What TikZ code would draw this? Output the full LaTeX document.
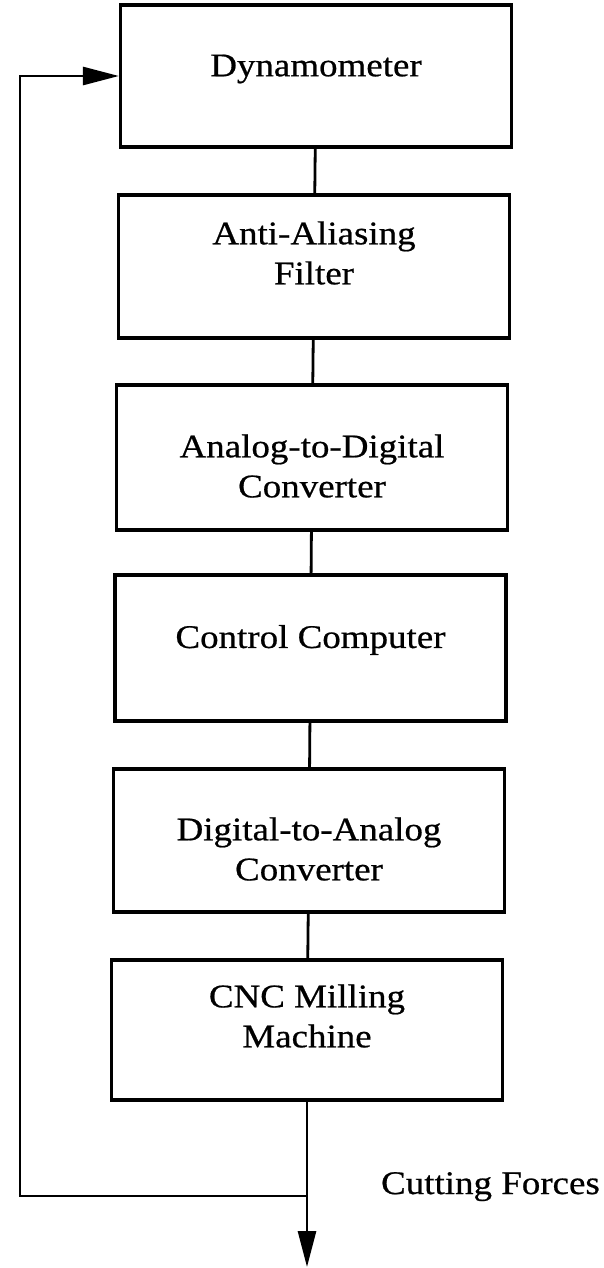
\documentclass[tikz,border=0pt]{standalone}
\usepackage{fontspec}
\setmainfont{Liberation Serif}[FakeStretch=1.12,FakeBold=0.6]
\usetikzlibrary{arrows.meta}
\begin{document}
\begin{tikzpicture}[x=1pt,y=-1pt,
  blk/.style={draw, line width=3.2pt, minimum width=391pt, inner sep=0pt},
  lbl/.style={font=\fontsize{33}{40}\selectfont, align=center, inner sep=0pt},
  wire/.style={line width=2.8pt},
  arr/.style={wire, -{Triangle[length=36pt,width=18pt]}}]
\useasboundingbox (0,0) rectangle (604,1268);

% processing chain, top to bottom
\node[blk, minimum height=142pt] (dyn) at (316,76)    {};
\node[blk, minimum height=143pt] (aaf) at (314,266.5) {};
\node[blk, minimum height=145pt] (adc) at (312,457.5) {};
\node[blk, minimum height=146pt] (cc)  at (310.5,648) {};
\node[blk, minimum height=143pt] (dac) at (309,840.5) {};
\node[blk, minimum height=140pt] (cnc) at (307,1030)  {};

% block captions
\node[lbl] (dyn-t) at (316,69)   {Dynamometer};
\node[lbl] (aaf-t) at (314,253)  {Anti-Aliasing\\Filter};
\node[lbl] (adc-t) at (312,466)  {Analog-to-Digital\\Converter};
\node[lbl] (cc-t)  at (310.5,640) {Control Computer};
\node[lbl] (dac-t) at (309,849)  {Digital-to-Analog\\Converter};
\node[lbl] (cnc-t) at (307,1016) {CNC Milling\\Machine};

% links between blocks
\draw[wire] (dyn) -- (aaf);
\draw[wire] (aaf) -- (adc);
\draw[wire] (adc) -- (cc);
\draw[wire] (cc)  -- (dac);
\draw[wire] (dac) -- (cnc);

% output and feedback path
\coordinate (out)   at (307,1267);
\coordinate (split) at (307,1196);
\coordinate (fb)    at (20,1196);
\draw[arr] (cnc) -- (out);
\draw[arr] (split) -- (fb) |- (dyn);

\node[lbl, anchor=base east] (cf) at (600,1194) {Cutting Forces};
\end{tikzpicture}
\end{document}
